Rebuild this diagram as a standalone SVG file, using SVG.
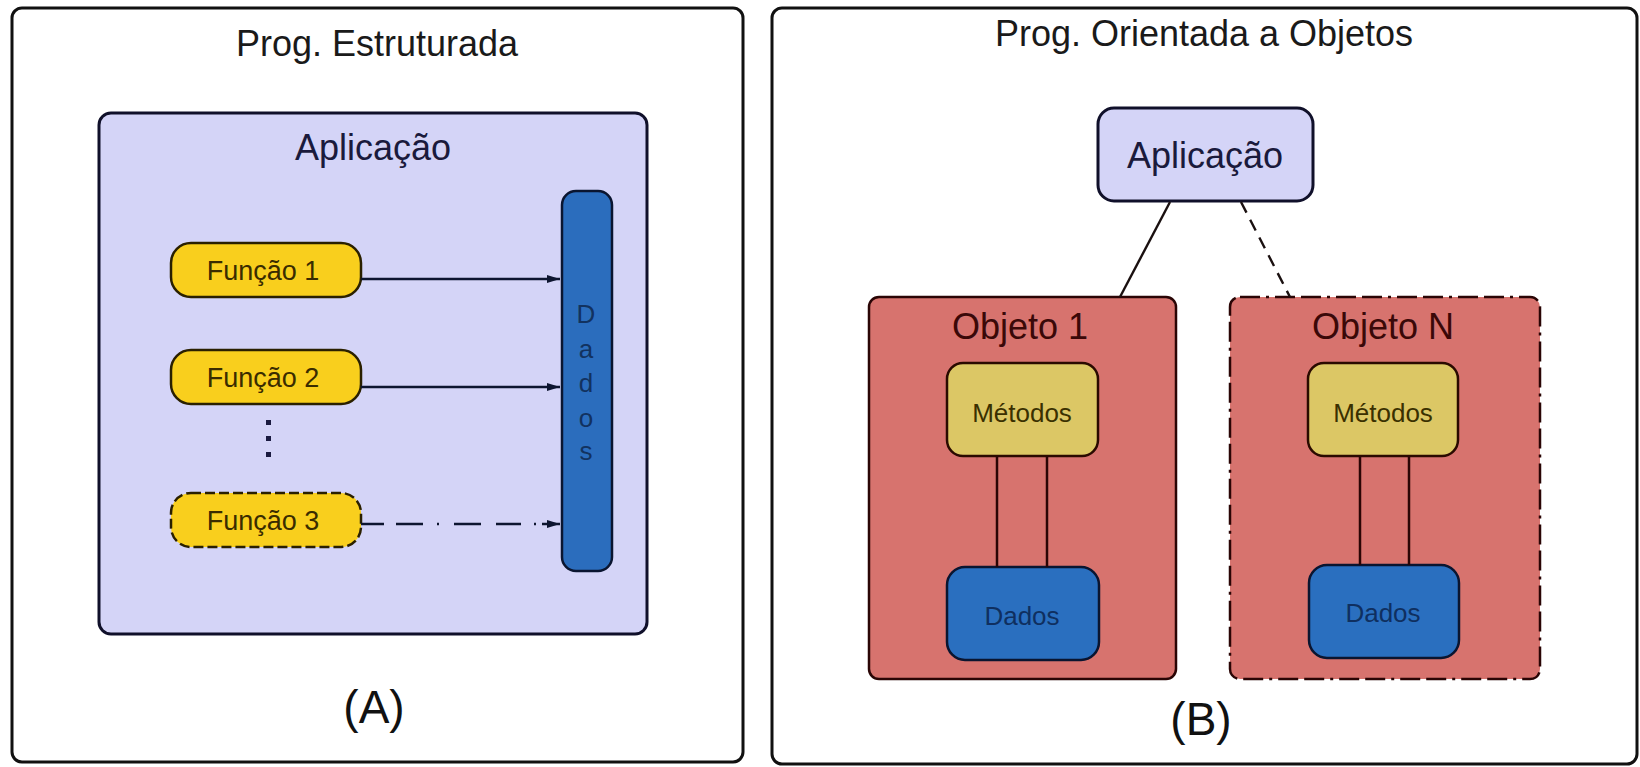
<svg xmlns="http://www.w3.org/2000/svg" width="1640" height="767" viewBox="0 0 1640 767">
<defs>
<style>
text{font-family:"Liberation Sans",Arial,sans-serif;text-anchor:middle}
.panel{fill:#ffffff;stroke:#111111;stroke-width:3}
.title{font-size:36px;fill:#1a1a1a}
.label{font-size:46px;fill:#111111}
.app{fill:#d4d4f7;stroke:#10102a;stroke-width:3}
.apptxt{font-size:36px;fill:#1a1a3c}
.func{fill:#f9cf1d;stroke:#2a2000;stroke-width:2.5}
.functxt{font-size:27px;fill:#3a2c00}
.bar{fill:#2b6dbd;stroke:#0a1530;stroke-width:2.5}
.bartxt{font-size:26px;fill:#12325f}
.obj{fill:#d7736e;stroke:#2a0505;stroke-width:2.5}
.objtxt{font-size:36px;fill:#3a0808}
.met{fill:#dcc765;stroke:#2a0a00;stroke-width:2.5}
.mettxt{font-size:26px;fill:#3a3000}
.dad{fill:#2a6fbf;stroke:#0a1530;stroke-width:2.5}
.dadtxt{font-size:26px;fill:#0f2f60}
.arrow{stroke:#0d1530;stroke-width:2.4;fill:none}
.link{stroke:#1a1010;stroke-width:2.4;fill:none}
.inner{stroke:#2a0505;stroke-width:2.5;fill:none}
</style>
<marker id="ah" markerUnits="userSpaceOnUse" markerWidth="14" markerHeight="10" refX="13" refY="5" orient="auto">
<path d="M0,1 L13,5 L0,9 z" fill="#0d1530"/>
</marker>
</defs>

<g id="panel-a">
<rect class="panel" x="12" y="8" width="731" height="754" rx="10"/>
<text class="title" x="377" y="56">Prog. Estruturada</text>
<text class="label" x="374" y="723">(A)</text>
</g>

<g id="aplicacao-a">
<rect class="app" x="99" y="113" width="548" height="521" rx="12"/>
<text class="apptxt" x="373" y="160">Aplicação</text>
</g>

<g id="dados-bar">
<rect class="bar" x="562" y="191" width="50" height="380" rx="14"/>
<text class="bartxt"><tspan x="586" y="323">D</tspan><tspan x="586" y="358">a</tspan><tspan x="586" y="392">d</tspan><tspan x="586" y="427">o</tspan><tspan x="586" y="460">s</tspan></text>
</g>

<g id="funcao1">
<rect class="func" x="171" y="243" width="190" height="54" rx="20"/>
<text class="functxt" x="263" y="280">Função 1</text>
</g>
<g id="funcao2">
<rect class="func" x="171" y="350" width="190" height="54" rx="20"/>
<text class="functxt" x="263" y="387">Função 2</text>
</g>
<g id="funcao3">
<rect class="func" x="171" y="493" width="190" height="54" rx="20" stroke-dasharray="10 4"/>
<text class="functxt" x="263" y="530">Função 3</text>
</g>

<g id="ellipsis" fill="#1a1a40">
<rect x="266" y="420" width="5" height="5"/>
<rect x="266" y="436" width="5" height="5"/>
<rect x="266" y="452" width="5" height="5"/>
</g>

<g id="panel-b">
<rect class="panel" x="772" y="8" width="865" height="756" rx="10"/>
<text class="title" x="1204" y="46">Prog. Orientada a Objetos</text>
<text class="label" x="1201" y="735">(B)</text>
</g>

<g id="aplicacao-b">
<rect class="app" x="1098" y="108" width="215" height="93" rx="16"/>
<text class="apptxt" x="1205" y="168">Aplicação</text>
</g>

<g id="objeto1">
<rect class="obj" x="869" y="297" width="307" height="382" rx="10"/>
<text class="objtxt" x="1020" y="339">Objeto 1</text>
</g>
<g id="metodos1">
<rect class="met" x="947" y="363" width="151" height="93" rx="16"/>
<text class="mettxt" x="1022" y="422">Métodos</text>
</g>
<g id="dados1">
<rect class="dad" x="947" y="567" width="152" height="93" rx="18"/>
<text class="dadtxt" x="1022" y="625">Dados</text>
</g>

<g id="objetoN">
<rect class="obj" x="1230" y="297" width="310" height="382" rx="10" stroke-dasharray="20 6 3 6 20 6"/>
<text class="objtxt" x="1383" y="339">Objeto N</text>
</g>
<g id="metodosN">
<rect class="met" x="1308" y="363" width="150" height="93" rx="16"/>
<text class="mettxt" x="1383" y="422">Métodos</text>
</g>
<g id="dadosN">
<rect class="dad" x="1309" y="565" width="150" height="93" rx="18"/>
<text class="dadtxt" x="1383" y="622">Dados</text>
</g>

<g id="connectors">
<line class="arrow" x1="361" y1="279" x2="560" y2="279" marker-end="url(#ah)"/>
<line class="arrow" x1="361" y1="387" x2="560" y2="387" marker-end="url(#ah)"/>
<line class="arrow" x1="361" y1="524" x2="560" y2="524" stroke-dasharray="23 12 27 14 2 15 27 15 25 13 2 6" marker-end="url(#ah)"/>
<line class="link" x1="1170" y1="202" x2="1120" y2="297"/>
<line class="link" x1="1241" y1="202" x2="1290" y2="297" stroke-dasharray="12 8"/>
<line class="inner" x1="997" y1="456" x2="997" y2="567"/>
<line class="inner" x1="1047" y1="456" x2="1047" y2="567"/>
<line class="inner" x1="1360" y1="456" x2="1360" y2="565"/>
<line class="inner" x1="1409" y1="456" x2="1409" y2="565"/>
</g>
</svg>
